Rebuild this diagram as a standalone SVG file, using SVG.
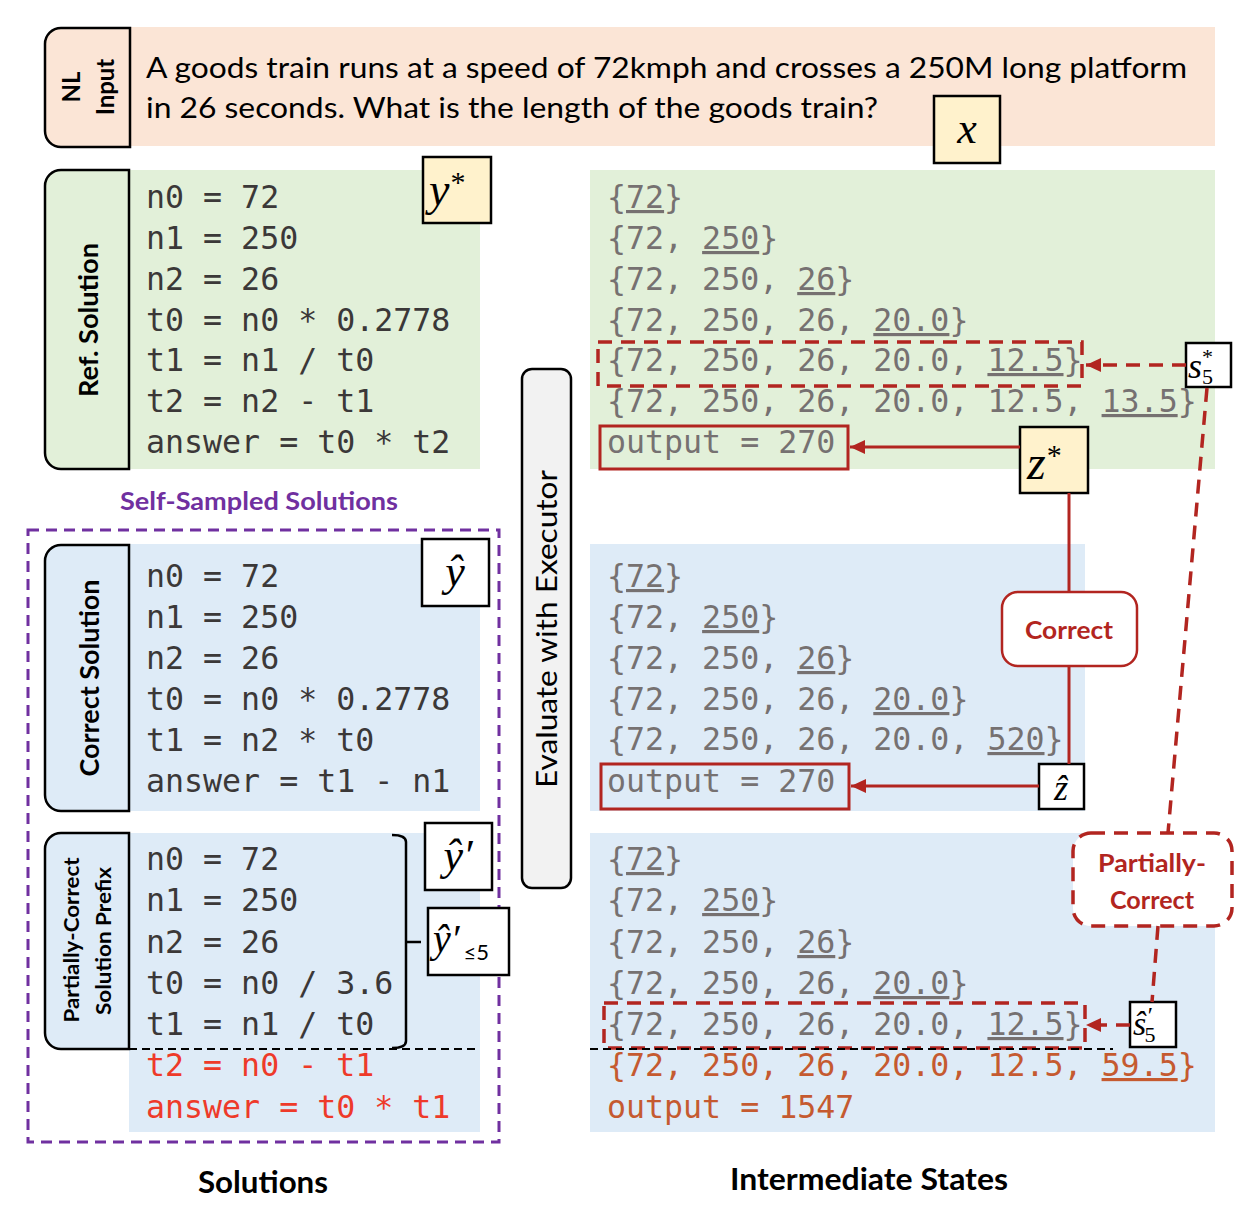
<svg xmlns="http://www.w3.org/2000/svg" width="1242" height="1208" viewBox="0 0 1242 1208">
<defs>
<style>
.sans{font-family:Lato,'Open Sans','Liberation Sans',sans-serif;}
.b{font-weight:bold;}
.code{font-family:'DejaVu Sans Mono','Liberation Mono',monospace;font-size:31.6px;fill:#3B3838;}
.st{font-family:'DejaVu Sans Mono','Liberation Mono',monospace;font-size:31.6px;fill:#767171;}
.rc{fill:#EE3A2A;}
.oc{fill:#C55A30;}
.u{text-decoration:underline;}
.math{font-family:'Liberation Serif','DejaVu Serif',serif;font-style:italic;fill:#000;}
.up{font-style:normal;}
.tab{stroke:#000;stroke-width:2.5;}
.mbox{stroke:#000;stroke-width:2.5;}
.yel{fill:#FFF2CC;}
.wht{fill:#FFFFFF;}
.red{stroke:#B22520;stroke-width:3;fill:none;}
.rdash{stroke:#B22520;stroke-width:3.5;fill:none;stroke-dasharray:14 9;}
.peach{fill:#FBE5D6;}
.green{fill:#E2F0D9;}
.blue{fill:#DEEBF7;}
</style>
<marker id="ah" markerUnits="userSpaceOnUse" markerWidth="16" markerHeight="14" refX="15" refY="7" orient="auto"><path d="M0,0 L15,7 L0,14 z" fill="#B22520"/></marker>
</defs>
<rect x="0" y="0" width="1242" height="1208" fill="#FFFFFF"/>

<!-- NL input -->
<g id="nl-input">
<rect class="peach" x="130" y="27" width="1085" height="119"/>
<path class="peach tab" d="M130,28 H61 A16,16 0 0 0 45,44 V131 A16,16 0 0 0 61,147 H130 Z"/>
<text class="sans b" font-size="24" text-anchor="middle" transform="translate(80,87) rotate(-90)">NL</text>
<text class="sans b" font-size="24" text-anchor="middle" transform="translate(114,87) rotate(-90)">Input</text>
<text class="sans" font-size="28" x="146" y="78" textLength="1041" lengthAdjust="spacingAndGlyphs">A goods train runs at a speed of 72kmph and crosses a 250M long platform</text>
<text class="sans" font-size="28" x="146" y="118" textLength="732" lengthAdjust="spacingAndGlyphs">in 26 seconds. What is the length of the goods train?</text>
</g>
<g id="x-label">
<rect class="yel mbox" x="934" y="96" width="66" height="67"/>
<text class="math" font-size="44" x="967" y="143" text-anchor="middle">x</text>
</g>

<!-- Ref solution -->
<g id="ref-solution">
<rect class="green" x="129" y="170" width="351" height="299"/>
<path class="green tab" d="M129,170 H61 A16,16 0 0 0 45,186 V453 A16,16 0 0 0 61,469 H129 Z"/>
<text class="sans b" font-size="26" text-anchor="middle" textLength="154" lengthAdjust="spacingAndGlyphs" transform="translate(98,320) rotate(-90)">Ref. Solution</text>
<text class="code" x="146" y="208">n0 = 72</text>
<text class="code" x="146" y="249">n1 = 250</text>
<text class="code" x="146" y="290">n2 = 26</text>
<text class="code" x="146" y="331">t0 = n0 * 0.2778</text>
<text class="code" x="146" y="371">t1 = n1 / t0</text>
<text class="code" x="146" y="412">t2 = n2 - t1</text>
<text class="code" x="146" y="453">answer = t0 * t2</text>
</g>
<g id="y-star">
<rect class="yel mbox" x="423" y="157" width="68" height="66"/>
<text class="math" font-size="46" x="429" y="205">y<tspan class="up" font-size="30" dx="1" dy="-13">*</tspan></text>
</g>

<!-- Ref states -->
<g id="ref-states">
<rect class="green" x="590" y="170" width="625" height="299"/>
<text class="st" x="607" y="208">{<tspan class="u">72</tspan>}</text>
<text class="st" x="607" y="249">{72, <tspan class="u">250</tspan>}</text>
<text class="st" x="607" y="290">{72, 250, <tspan class="u">26</tspan>}</text>
<text class="st" x="607" y="331">{72, 250, 26, <tspan class="u">20.0</tspan>}</text>
<text class="st" x="607" y="371">{72, 250, 26, 20.0, <tspan class="u">12.5</tspan>}</text>
<text class="st" x="607" y="412">{72, 250, 26, 20.0, 12.5, <tspan class="u">13.5</tspan>}</text>
<text class="st" x="607" y="453">output = 270</text>
<rect class="rdash" x="598" y="342" width="484" height="44"/>
<rect class="red" x="600" y="426" width="248" height="43" stroke-width="3.5"/>
</g>
<g id="s5-star">
<rect class="wht mbox" x="1186" y="343" width="45" height="44"/>
<text class="math" font-size="36" x="1188" y="378">s<tspan class="up" font-size="22" dx="0" dy="6">5</tspan><tspan class="up" font-size="22" dx="-11" dy="-20">*</tspan></text>
</g>
<g id="z-star">
<rect class="yel mbox" x="1020" y="427" width="68" height="66"/>
<text class="math" font-size="48" x="1027" y="479">z<tspan class="up" font-size="30" dx="1" dy="-14">*</tspan></text>
</g>

<!-- Self-sampled -->
<g id="self-sampled">
<text class="sans b" font-size="24" fill="#7030A0" x="259" y="510" text-anchor="middle" textLength="278" lengthAdjust="spacingAndGlyphs">Self-Sampled Solutions</text>
<rect x="28" y="530" width="471" height="612" fill="none" stroke="#7030A0" stroke-width="3" stroke-dasharray="11 7"/>
</g>

<!-- Correct solution -->
<g id="correct-solution">
<rect class="blue" x="129" y="544" width="351" height="267"/>
<path class="blue tab" d="M129,545 H61 A16,16 0 0 0 45,561 V795 A16,16 0 0 0 61,811 H129 Z"/>
<text class="sans b" font-size="26" text-anchor="middle" textLength="197" lengthAdjust="spacingAndGlyphs" transform="translate(99,678) rotate(-90)">Correct Solution</text>
<text class="code" x="146" y="587">n0 = 72</text>
<text class="code" x="146" y="628">n1 = 250</text>
<text class="code" x="146" y="669">n2 = 26</text>
<text class="code" x="146" y="710">t0 = n0 * 0.2778</text>
<text class="code" x="146" y="751">t1 = n2 * t0</text>
<text class="code" x="146" y="792">answer = t1 - n1</text>
</g>
<g id="y-hat">
<rect class="wht mbox" x="422" y="539" width="67" height="67"/>
<text class="math" font-size="44" x="455" y="586" text-anchor="middle">ŷ</text>
</g>

<!-- Correct states -->
<g id="correct-states">
<rect class="blue" x="590" y="544" width="495" height="267"/>
<text class="st" x="607" y="587">{<tspan class="u">72</tspan>}</text>
<text class="st" x="607" y="628">{72, <tspan class="u">250</tspan>}</text>
<text class="st" x="607" y="669">{72, 250, <tspan class="u">26</tspan>}</text>
<text class="st" x="607" y="710">{72, 250, 26, <tspan class="u">20.0</tspan>}</text>
<text class="st" x="607" y="750">{72, 250, 26, 20.0, <tspan class="u">520</tspan>}</text>
<text class="st" x="607" y="792">output = 270</text>
<rect class="red" x="601" y="764" width="248" height="45" stroke-width="3.5"/>
</g>
<g id="z-hat">
<rect class="wht mbox" x="1039" y="764" width="45" height="45"/>
<text class="math" font-size="36" x="1061" y="800" text-anchor="middle">ẑ</text>
</g>
<g id="correct-label">
<rect x="1002" y="592" width="135" height="74" rx="16" fill="#FFFFFF" stroke="#B22520" stroke-width="2.5"/>
<text class="sans b" font-size="25" fill="#B22520" x="1069" y="639" text-anchor="middle" textLength="88" lengthAdjust="spacingAndGlyphs">Correct</text>
</g>

<!-- Partially-correct solution -->
<g id="partial-solution">
<rect class="blue" x="129" y="833" width="351" height="299"/>
<path class="blue tab" d="M129,833 H61 A16,16 0 0 0 45,849 V1033 A16,16 0 0 0 61,1049 H129 Z"/>
<text class="sans b" font-size="21" text-anchor="middle" textLength="165" lengthAdjust="spacingAndGlyphs" transform="translate(79,940) rotate(-90)">Partially-Correct</text>
<text class="sans b" font-size="21" text-anchor="middle" textLength="148" lengthAdjust="spacingAndGlyphs" transform="translate(111,941) rotate(-90)">Solution Prefix</text>
<text class="code" x="146" y="870">n0 = 72</text>
<text class="code" x="146" y="911">n1 = 250</text>
<text class="code" x="146" y="953">n2 = 26</text>
<text class="code" x="146" y="994">t0 = n0 / 3.6</text>
<text class="code" x="146" y="1035">t1 = n1 / t0</text>
<text class="code rc" x="146" y="1076">t2 = n0 - t1</text>
<text class="code rc" x="146" y="1118">answer = t0 * t1</text>
<line x1="129" y1="1049" x2="480" y2="1049" stroke="#000" stroke-width="2" stroke-dasharray="8 5"/>
<path d="M392,835 Q406,835 406,842 V1041 Q406,1048 392,1048 M406,942 H421" fill="none" stroke="#000" stroke-width="2.5"/>
</g>
<g id="y-hat-prime">
<rect class="wht mbox" x="425" y="823" width="67" height="67"/>
<text class="math" font-size="44" x="458" y="870" text-anchor="middle">ŷ′</text>
</g>
<g id="y-hat-prime-le5">
<rect class="wht mbox" x="428" y="908" width="81" height="67"/>
<text class="math" font-size="40" x="433" y="952">ŷ′<tspan class="sans up" font-size="22" dx="4" dy="8">≤5</tspan></text>
</g>

<!-- Partial states -->
<g id="partial-states">
<rect class="blue" x="590" y="833" width="625" height="299"/>
<text class="st" x="607" y="870">{<tspan class="u">72</tspan>}</text>
<text class="st" x="607" y="911">{72, <tspan class="u">250</tspan>}</text>
<text class="st" x="607" y="953">{72, 250, <tspan class="u">26</tspan>}</text>
<text class="st" x="607" y="994">{72, 250, 26, <tspan class="u">20.0</tspan>}</text>
<text class="st" x="607" y="1035">{72, 250, 26, 20.0, <tspan class="u">12.5</tspan>}</text>
<text class="st oc" x="607" y="1076">{72, 250, 26, 20.0, 12.5, <tspan class="u">59.5</tspan>}</text>
<text class="st oc" x="607" y="1118">output = 1547</text>
<rect class="rdash" x="604" y="1003" width="481" height="45"/>
<line x1="590" y1="1049" x2="1113" y2="1049" stroke="#000" stroke-width="2" stroke-dasharray="8 5"/>
</g>
<g id="s5-hat-prime">
<rect class="wht mbox" x="1130" y="1002" width="46" height="45"/>
<text class="math" font-size="34" x="1133" y="1035">ŝ<tspan font-size="24" dx="0" dy="-12">′</tspan><tspan class="up" font-size="22" dx="-7" dy="19">5</tspan></text>
</g>
<g id="partial-label">
<rect x="1073" y="833" width="159" height="93" rx="18" fill="#FFFFFF" stroke="#B22520" stroke-width="3.5" stroke-dasharray="14 9"/>
<text class="sans b" font-size="25" fill="#B22520" x="1152" y="872" text-anchor="middle" textLength="108" lengthAdjust="spacingAndGlyphs">Partially-</text>
<text class="sans b" font-size="25" fill="#B22520" x="1152" y="909" text-anchor="middle" textLength="84" lengthAdjust="spacingAndGlyphs">Correct</text>
</g>

<!-- Evaluate with executor -->
<g id="executor">
<rect x="522" y="369" width="49" height="519" rx="10" fill="#F2F2F2" stroke="#000" stroke-width="2.5"/>
<text class="sans" font-size="29" text-anchor="middle" textLength="318" lengthAdjust="spacingAndGlyphs" transform="translate(557,629) rotate(-90)">Evaluate with Executor</text>
</g>

<!-- Bottom labels -->
<g id="labels">
<text class="sans b" font-size="30" x="263" y="1193" text-anchor="middle" textLength="130" lengthAdjust="spacingAndGlyphs">Solutions</text>
<text class="sans b" font-size="30" x="869" y="1190" text-anchor="middle" textLength="278" lengthAdjust="spacingAndGlyphs">Intermediate States</text>
</g>

<!-- Connectors -->
<g id="connectors">
<line class="rdash" x1="1186" y1="365" x2="1086" y2="365" marker-end="url(#ah)"/>
<line class="red" x1="1020" y1="447" x2="850" y2="447" marker-end="url(#ah)"/>
<line class="red" x1="1069" y1="493" x2="1069" y2="592" stroke-width="2.5"/>
<line class="red" x1="1069" y1="666" x2="1069" y2="764" stroke-width="2.5"/>
<line class="red" x1="1039" y1="786" x2="851" y2="786" marker-end="url(#ah)"/>
<line class="rdash" x1="1207" y1="388" x2="1168" y2="833"/>
<line class="rdash" x1="1158" y1="926" x2="1152" y2="1002"/>
<line class="rdash" x1="1130" y1="1025" x2="1086" y2="1025" marker-end="url(#ah)"/>
</g>
</svg>
